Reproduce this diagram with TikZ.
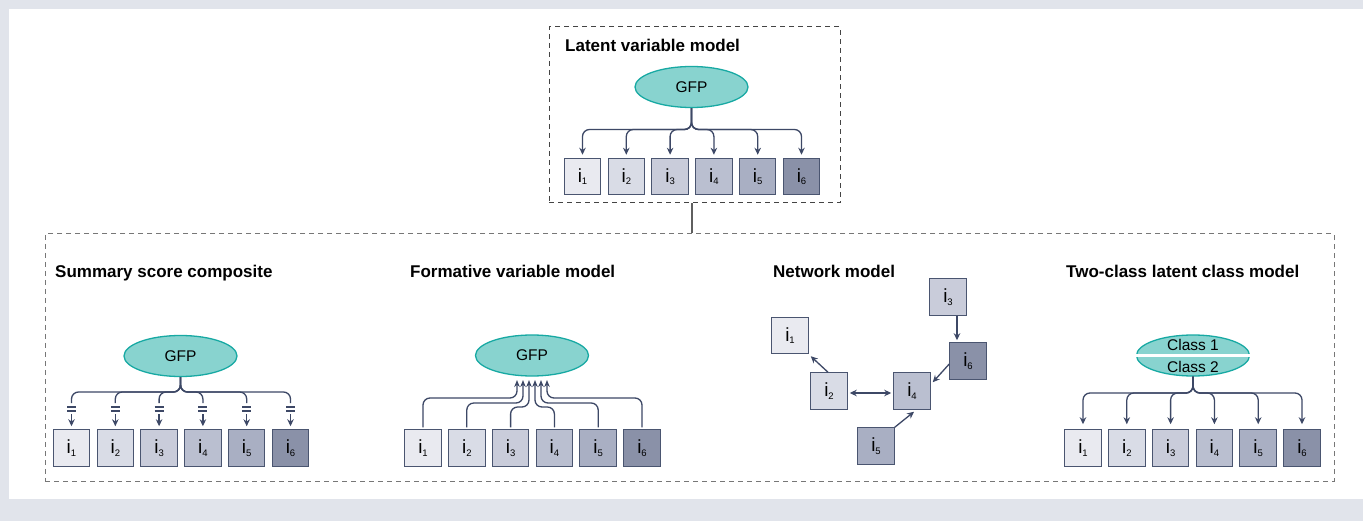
\documentclass[tikz,border=0pt]{standalone}
\usepackage{fontspec}
\setmainfont{Liberation Sans}
\usetikzlibrary{arrows.meta,shapes.geometric,calc}
\definecolor{bg}{HTML}{E1E4EB}
\definecolor{ellfill}{HTML}{88D3CF}
\definecolor{elledge}{HTML}{17A9A3}
\definecolor{boxedge}{HTML}{4A5570}
\definecolor{arr}{HTML}{3D4866}
\definecolor{c1}{HTML}{E9EAF0}
\definecolor{c2}{HTML}{D9DCE6}
\definecolor{c3}{HTML}{C9CCDA}
\definecolor{c4}{HTML}{BABFD0}
\definecolor{c5}{HTML}{A9AFC3}
\definecolor{c6}{HTML}{8A91A8}
\definecolor{dashA}{HTML}{444444}
\definecolor{dashB}{HTML}{777777}
\newcommand\itm[1]{i\raisebox{-2.5pt}{\fontsize{9.5}{9.5}\selectfont #1}}
\begin{document}
\begin{tikzpicture}[x=1pt,y=-1pt,
  itembox/.style={draw=boxedge, line width=1pt, minimum width=36.5pt, minimum height=36.5pt, inner sep=0pt, font=\fontsize{19}{19}\selectfont},
  gfp/.style={ellipse, draw=elledge, fill=ellfill, line width=1.3pt, minimum width=113pt, minimum height=41pt, inner sep=0pt, font=\fontsize{15.5}{16}\selectfont},
  ttl/.style={anchor=base west, inner sep=0pt, font=\bfseries\fontsize{17}{18}\selectfont},
  conn/.style={draw=arr, line width=1.3pt, rounded corners=7pt},
  tip/.style={-{Stealth[length=7pt,width=6.5pt]}},
  eqs/.style={draw=arr, line width=1.7pt},
  dbox/.style={draw, line width=1pt, dash pattern=on 5pt off 4pt, inner sep=0pt}
]
\useasboundingbox (0,0) rectangle (1363,521);
\fill[bg] (0,0) rectangle (1363,521);
\fill[white] (9,9) rectangle (1363,499);

% dashed frames
\node[dbox, draw=dashA, minimum width=291pt, minimum height=176pt] (topbox) at (694.5,115) {};
\node[dbox, draw=dashB, minimum width=1289pt, minimum height=247pt] (botbox) at (689.5,357.5) {};
\draw[draw=dashB!80!black, line width=1.2pt] ([xshift=-2.5pt]topbox.south) -- ([xshift=-2.5pt]topbox.south |- botbox.north);

% ---------------- Latent variable model
\node[ttl] (t0) at (565,52) {Latent variable model};
\node[gfp] (g0) at (691.5,87) {GFP};
\coordinate (h0) at (0,129.5);
\foreach \k/\c in {1/c1,2/c2,3/c3,4/c4,5/c5,6/c6}{
  \node[itembox, fill=\c] (a\k) at ({582.5+43.8*(\k-1)},176.5) {\itm{\k}};
  \draw[conn,tip] (g0.south) -- (g0.south |- h0) -- (a\k |- h0) -- ([yshift=3pt]a\k.north);
}

% ---------------- Summary score composite
\node[ttl] (t1) at (55,278) {Summary score composite};
\node[gfp] (s0) at (180.5,356) {GFP};
\coordinate (h1) at (0,392);
\coordinate (h1b) at (0,403);
\coordinate (e1) at (0,407);
\coordinate (e2) at (0,411);
\coordinate (h1c) at (0,414);
\foreach \k/\c in {1/c1,2/c2,3/c3,4/c4,5/c5,6/c6}{
  \node[itembox, fill=\c] (b\k) at ({71.5+43.8*(\k-1)},448) {\itm{\k}};
  \draw[conn] (s0.south) -- (s0.south |- h1) -- (b\k |- h1) -- (b\k |- h1b);
  \draw[eqs] ($(b\k |- e1)+(-4.5,0)$) -- ($(b\k |- e1)+(4.5,0)$);
  \draw[eqs] ($(b\k |- e2)+(-4.5,0)$) -- ($(b\k |- e2)+(4.5,0)$);
  \draw[conn,tip] (b\k |- h1c) -- ([yshift=3pt]b\k.north);
}

% ---------------- Formative variable model
\node[ttl] (t2) at (410,278) {Formative variable model};
\node[gfp] (f0) at (532,355.5) {GFP};
\coordinate (v0) at (0,380);
\foreach \k/\c/\lev/\ax in {1/c1/398/517,2/c2/403/523,3/c3/407/529,4/c4/407/535,5/c5/403/541,6/c6/398/547}{
  \node[itembox, fill=\c] (f\k) at ({423+43.8*(\k-1)},448) {\itm{\k}};
  \coordinate (lv\k) at (\ax,\lev);
  \draw[conn,-{Stealth[length=7pt,width=5.5pt]}] ([yshift=2pt]f\k.north) -- (f\k |- lv\k) -- (lv\k) -- (lv\k |- v0);
}

% ---------------- Network model
\node[ttl] (t3) at (773,278) {Network model};
\node[itembox, fill=c3] (n3) at (948,297) {\itm{3}};
\node[itembox, fill=c1] (n1) at (790,335.5) {\itm{1}};
\node[itembox, fill=c6] (n6) at (968,361) {\itm{6}};
\node[itembox, fill=c2] (n2) at (829,391) {\itm{2}};
\node[itembox, fill=c4] (n4) at (912,391) {\itm{4}};
\node[itembox, fill=c5] (n5) at (876,446) {\itm{5}};
\draw[conn,tip] ([xshift=9pt]n3.south) -- ([xshift=-11pt,yshift=2pt]n6.north);
\draw[conn,tip] ([xshift=-1pt]n2.north) -- ([xshift=2pt,yshift=-2pt]n1.south east);
\draw[conn,{Stealth[length=7pt,width=6.5pt]}-{Stealth[length=7pt,width=6.5pt]}] ([xshift=2pt,yshift=-2pt]n2.east) -- ([xshift=-2pt,yshift=-2pt]n4.west);
\draw[conn,tip] ([yshift=-3pt]n6.west) -- ([xshift=2pt,yshift=-10pt]n4.north east);
\draw[conn,tip] (n5.north east) -- ([xshift=2pt,yshift=-2pt]n4.south);

% ---------------- Two-class latent class model
\node[ttl] (t4) at (1066,278) {Two-class latent class model};
\node[gfp] (k0) at (1193,355.5) {};
\draw[white, line width=2.5pt] ([xshift=-1pt]k0.west) -- ([xshift=1pt]k0.east);
\node[font=\fontsize{15.5}{16}\selectfont, inner sep=0pt] (k1) at (1193,345) {Class 1};
\node[font=\fontsize{15.5}{16}\selectfont, inner sep=0pt] (k2) at (1193,366.5) {Class 2};
\coordinate (h4) at (0,393);
\foreach \k/\c in {1/c1,2/c2,3/c3,4/c4,5/c5,6/c6}{
  \node[itembox, fill=\c] (d\k) at ({1083+43.8*(\k-1)},448) {\itm{\k}};
  \draw[conn,tip] (k0.south) -- (k0.south |- h4) -- (d\k |- h4) -- ([yshift=5pt]d\k.north);
}
\end{tikzpicture}
\end{document}
